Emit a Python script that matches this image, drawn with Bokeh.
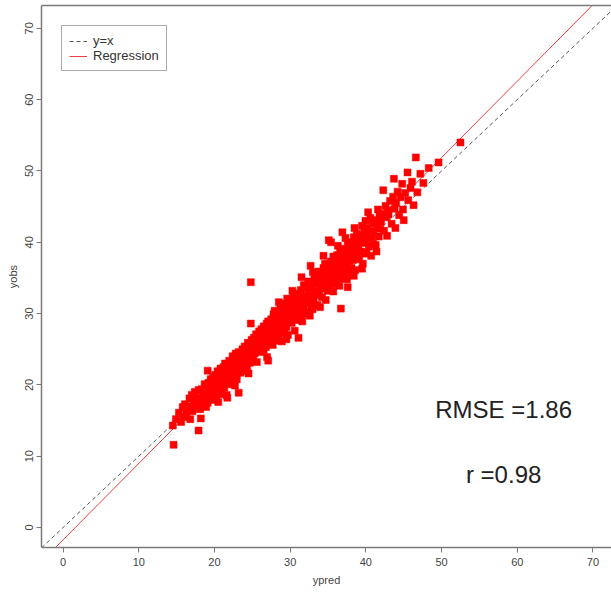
from bokeh.plotting import figure
from bokeh.models import Range1d, Label, Legend, LegendItem, FixedTicker, LinearAxis
from bokeh.embed import file_html
from bokeh.resources import INLINE

# ---- data ----
ypred = [
    14.6, 14.5, 14.9,
    15.3, 15.6, 15.8, 15.9,
    16.1, 16.3, 16.5, 16.7, 16.8, 16.9,
    17.0, 17.1, 17.3, 17.4, 17.5, 17.6, 17.8, 17.9, 17.9,
    18.0, 18.1, 18.2, 18.3, 18.4, 18.5, 18.6, 18.7, 18.8, 18.9, 18.9,
    19.0, 19.1, 19.1, 19.2, 19.3, 19.4, 19.5, 19.6, 19.7, 19.8, 19.8, 19.9, 19.9,
    20.0, 20.1, 20.2, 20.3, 20.4, 20.4, 20.5, 20.6, 20.7, 20.8, 20.8, 20.9, 20.9, 20.95,
    21.0, 21.1, 21.2, 21.3, 21.3, 21.4, 21.5, 21.6, 21.7, 21.7, 21.8, 21.9, 21.9, 21.95,
    22.0, 22.1, 22.2, 22.3, 22.4, 22.5, 22.5, 22.6, 22.7, 22.8, 22.8, 22.9, 22.9, 22.95,
    23.0, 23.1, 23.2, 23.2, 23.3, 23.4, 23.5, 23.6, 23.7, 23.7, 23.8, 23.9, 23.95,
    24.0, 24.1, 24.2, 24.3, 24.4, 24.5, 24.5, 24.6, 24.7, 24.8, 24.8, 24.9, 24.9,
    25.0, 25.1, 25.2, 25.3, 25.4, 25.5, 25.6, 25.7, 25.8, 25.9, 25.9, 25.95,
    26.0, 26.1, 26.2, 26.3, 26.4, 26.5, 26.5, 26.6, 26.7, 26.8, 26.9, 26.9, 26.95,
    27.0, 27.1, 27.1, 27.2, 27.3, 27.4, 27.5, 27.6, 27.7, 27.8, 27.8, 27.9, 27.9, 27.95,
    28.0, 28.1, 28.2, 28.3, 28.4, 28.4, 28.5, 28.6, 28.7, 28.7, 28.8, 28.9, 28.9, 28.95, 28.5,
    29.0, 29.1, 29.2, 29.2, 29.3, 29.4, 29.5, 29.6, 29.6, 29.7, 29.8, 29.8, 29.9, 29.95, 29.5,
    30.0, 30.1, 30.2, 30.3, 30.4, 30.5, 30.6, 30.6, 30.7, 30.8, 30.9, 30.9, 30.95, 30.3,
    31.0, 31.1, 31.2, 31.3, 31.4, 31.5, 31.6, 31.7, 31.8, 31.8, 31.9, 31.95, 31.5,
    32.0, 32.1, 32.2, 32.3, 32.4, 32.5, 32.6, 32.7, 32.7, 32.8, 32.9, 32.9, 32.95,
    33.0, 33.0, 33.1, 33.2, 33.3, 33.4, 33.5, 33.6, 33.7, 33.8, 33.8, 33.9, 33.95,
    34.0, 34.1, 34.2, 34.3, 34.4, 34.5, 34.5, 34.6, 34.7, 34.8, 34.8, 34.9, 34.95, 34.4,
    35.0, 35.1, 35.1, 35.2, 35.3, 35.4, 35.4, 35.5, 35.6, 35.7, 35.7, 35.8, 35.9, 35.9, 35.95,
    36.0, 36.1, 36.2, 36.3, 36.4, 36.5, 36.5, 36.6, 36.7, 36.7, 36.8, 36.9, 36.9, 36.95, 36.3, 36.6,
    37.0, 37.1, 37.2, 37.3, 37.4, 37.5, 37.5, 37.6, 37.7, 37.8, 37.8, 37.9, 37.95, 37.3, 37.6,
    38.0, 38.1, 38.2, 38.3, 38.4, 38.5, 38.6, 38.7, 38.8, 38.8, 38.9, 38.95, 38.5, 38.4,
    39.0, 39.1, 39.2, 39.3, 39.4, 39.5, 39.6, 39.7, 39.8, 39.8, 39.9, 39.95, 39.5,
    40.0, 40.1, 40.2, 40.4, 40.5, 40.6, 40.7, 40.8, 40.9, 40.95, 40.3,
    41.0, 41.2, 41.3, 41.5, 41.6, 41.7, 41.8, 41.9, 41.4,
    42.0, 42.2, 42.3, 42.4, 42.6, 42.7, 42.8, 42.9,
    43.0, 43.2, 43.4, 43.6, 43.7, 43.8, 43.9,
    44.0, 44.2, 44.4, 44.6, 44.8, 44.9,
    45.0, 45.2, 45.5, 45.6, 45.9,
    46.1, 46.3, 46.6, 46.8,
    47.2, 47.6, 48.3, 49.6, 52.5,
]
yobs = [
    11.6, 14.3, 15.2,
    16.1, 14.8, 16.9, 15.5,
    17.3, 15.9, 16.8, 18.1, 15.2, 17.0,
    18.6, 16.3, 17.6, 19.0, 16.9, 18.2, 17.4, 13.6, 19.3,
    18.0, 16.6, 15.3, 19.4, 17.8, 18.9, 17.1, 20.1, 18.4, 19.6, 16.9,
    18.7, 22.0, 17.5, 20.3, 19.1, 18.2, 20.8, 19.5, 17.9, 21.0, 19.9, 18.6, 20.5,
    19.2, 21.4, 18.1, 20.0, 21.9, 19.3, 17.6, 20.7, 19.8, 22.3, 18.7, 21.1, 20.2, 19.5,
    21.6, 20.4, 22.5, 19.6, 21.0, 23.0, 20.8, 18.6, 18.2, 22.1, 21.3, 20.1, 22.8, 23.4,
    21.8, 23.2, 20.6, 22.4, 24.0, 21.2, 23.6, 22.0, 19.9, 23.1, 24.4, 21.5, 22.7, 20.8,
    23.8, 22.2, 18.9, 24.6, 23.0, 21.7, 24.1, 22.8, 25.0, 23.5, 21.9, 24.3, 22.6,
    25.4, 23.3, 24.7, 22.4, 25.9, 21.6, 24.0, 25.2, 23.1, 34.4, 28.6, 24.6, 26.3,
    25.0, 23.7, 26.6, 24.4, 25.8, 27.1, 23.2, 25.3, 26.9, 24.8, 27.5, 25.9,
    26.4, 24.6, 27.8, 25.6, 26.9, 28.2, 24.9, 26.1, 27.4, 25.3, 28.6, 26.7, 23.9,
    27.2, 23.4, 28.9, 25.9, 27.7, 26.4, 29.2, 27.0, 25.6, 28.3, 29.9, 26.8, 27.9, 30.4,
    28.6, 26.2, 29.5, 27.4, 30.1, 28.0, 26.7, 29.0, 31.2, 27.6, 28.9, 30.5, 26.1, 29.7, 31.6,
    28.4, 30.0, 31.4, 27.3, 29.2, 30.8, 28.1, 29.8, 32.1, 27.0, 30.4, 29.0, 31.7, 28.8, 26.4,
    30.2, 31.8, 28.7, 30.9, 32.4, 29.4, 31.2, 27.6, 30.0, 32.8, 29.1, 31.5, 30.6, 33.2,
    30.4, 26.6, 32.0, 29.6, 33.3, 31.1, 28.9, 32.5, 30.7, 34.0, 31.6, 29.9, 35.1,
    32.2, 30.2, 33.6, 31.5, 34.5, 32.7, 29.7, 36.7, 33.2, 31.0, 34.1, 32.4, 30.6,
    35.8, 33.4, 31.7, 34.8, 32.6, 35.3, 33.0, 31.2, 34.2, 35.9, 32.9, 34.6, 30.9,
    33.8, 35.6, 32.3, 34.9, 36.4, 33.5, 35.1, 37.0, 31.9, 34.3, 36.1, 35.4, 33.2, 38.1,
    35.0, 40.3, 36.8, 33.7, 35.7, 40.0, 37.3, 34.4, 36.2, 33.1, 38.0, 35.3, 36.9, 34.1, 37.6,
    36.5, 34.6, 38.2, 35.8, 37.4, 33.9, 36.1, 38.9, 30.7, 37.0, 35.2, 41.4, 38.3, 36.3, 39.5, 34.9,
    37.7, 35.6, 39.1, 36.5, 38.4, 34.8, 37.2, 40.0, 36.0, 38.8, 37.4, 39.6, 35.4, 40.6, 33.7,
    38.1, 36.4, 39.8, 37.5, 40.7, 38.6, 36.1, 39.3, 41.2, 37.9, 40.1, 38.9, 42.0, 35.3,
    39.5, 37.6, 41.0, 38.7, 40.4, 42.3, 37.0, 39.9, 41.6, 38.4, 40.8, 43.0, 36.3,
    40.3, 38.6, 42.0, 39.4, 41.3, 43.4, 38.1, 40.7, 42.6, 39.8, 44.2,
    41.5, 43.1, 39.6, 42.4, 44.6, 40.8, 43.7, 41.9, 38.7,
    42.9, 44.0, 47.3, 41.6, 45.1, 43.5, 40.9, 44.5,
    43.9, 45.8, 42.6, 46.4, 48.9, 44.7, 42.0,
    45.5, 47.1, 43.8, 46.3, 48.2, 44.6,
    43.1, 46.9, 49.8, 45.9, 47.6,
    48.5, 45.2, 51.9, 47.0,
    49.6, 48.3, 50.4, 51.2, 54.0,
]
ticks = [0, 10, 20, 30, 40, 50, 60, 70]
reg_intercept = -1.73
reg_slope = 1.072
rmse_text = "RMSE =1.86"
r_text = "r =0.98"
legend_labels = ["y=x", "Regression"]

x_start, x_end = -2.85, 72.45
y_start, y_end = -2.8, 73.2

FONT = "Liberation Sans"
FRAME = "#7a7a7a"

p = figure(width=611, height=593, output_backend="svg", toolbar_location=None,
           x_range=Range1d(x_start, x_end), y_range=Range1d(y_start, y_end),
           min_border_left=41, min_border_right=0, min_border_top=5,
           min_border_bottom=46, background_fill_color="white",
           border_fill_color="white")

p.xgrid.visible = False
p.ygrid.visible = False
p.outline_line_color = None

for ax in (p.xaxis[0], p.yaxis[0]):
    ax.ticker = FixedTicker(ticks=ticks)
    ax.axis_line_color = FRAME
    ax.axis_line_width = 1.5
    ax.major_tick_in = 0
    ax.major_tick_out = 5
    ax.major_tick_line_color = FRAME
    ax.minor_tick_line_color = None
    ax.major_label_text_font = FONT
    ax.major_label_text_font_size = "11px"
    ax.major_label_text_color = "#444444"
    ax.major_label_standoff = 5
    ax.axis_label_text_font = FONT
    ax.axis_label_text_font_size = "11px"
    ax.axis_label_text_font_style = "normal"
    ax.axis_label_text_color = "#444444"
    ax.axis_label_standoff = 5

p.xaxis.axis_label = "ypred"
p.yaxis.axis_label = "yobs"
p.yaxis.major_label_standoff = 3
p.yaxis.axis_label_standoff = 4
p.yaxis.major_label_orientation = "vertical"

# top side of the box (no right side visible in the picture)
top_axis = LinearAxis(ticker=FixedTicker(ticks=[]), axis_line_color=FRAME,
                      axis_line_width=1.5, major_tick_line_color=None,
                      minor_tick_line_color=None, major_label_text_font_size="0px")
p.add_layout(top_axis, "above")

# reference lines
lx = [x_start, x_end]
l_eq = p.line(lx, lx, line_color="#555555", line_width=1, line_dash="4 3")
l_reg = p.line(lx, [reg_intercept + reg_slope * v for v in lx],
               line_color="#ee4040", line_width=1)

p.scatter(ypred, yobs, marker="square", size=7, fill_color="#ff0000",
          line_color="#ff0000", line_width=0.5)

legend = Legend(items=[LegendItem(label=legend_labels[0], renderers=[l_eq]),
                       LegendItem(label=legend_labels[1], renderers=[l_reg])],
                location="top_left", margin=20, padding=7, spacing=0,
                label_text_font=FONT, label_text_font_size="13px",
                label_text_color="#333333", label_standoff=6,
                glyph_width=18, glyph_height=14, label_height=14,
                border_line_color="#555555", border_line_width=1,
                background_fill_color="white", background_fill_alpha=1)
p.add_layout(legend)

p.add_layout(Label(x=58.2, y=16.5, text=rmse_text, text_align="center",
                   text_baseline="middle", text_font=FONT,
                   text_font_size="24px", text_color="#222222"))
p.add_layout(Label(x=58.2, y=7.4, text=r_text, text_align="center",
                   text_baseline="middle", text_font=FONT,
                   text_font_size="24px", text_color="#222222"))

open("out.html", "w").write(file_html(p, INLINE))
